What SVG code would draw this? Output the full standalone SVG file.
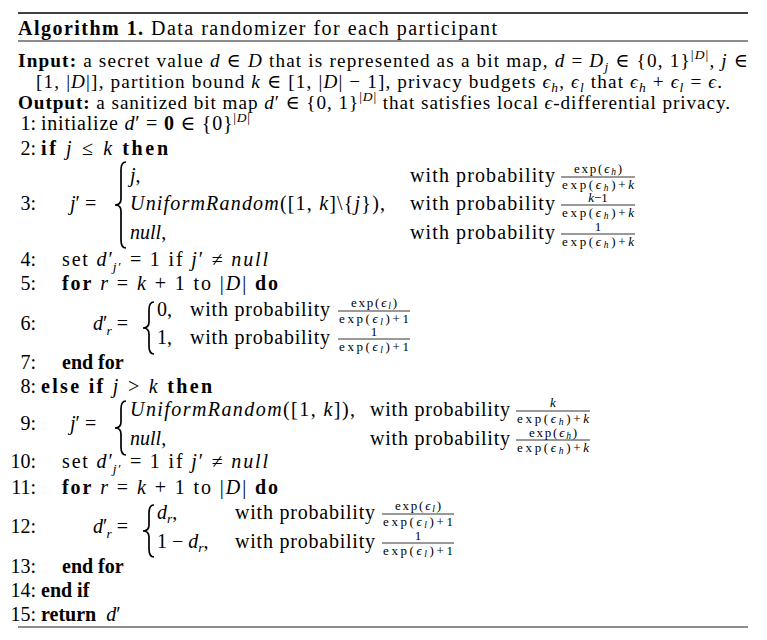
<svg xmlns="http://www.w3.org/2000/svg" width="767" height="640" viewBox="0 0 767 640">
<style>
text{font-family:"Liberation Serif","DejaVu Serif",serif;font-size:20px;fill:#000}
.L{font-size:19.2px}
.b{font-weight:bold}
.i{font-style:italic}
.s{font-size:13.5px}
.f{font-size:13px;text-anchor:middle}
.n{text-anchor:end}
.rule{stroke:#000;fill:none}
.br{stroke:#000;stroke-width:1.7;fill:none}
.bar{stroke:#000;stroke-width:0.8}
</style>
<rect width="767" height="640" fill="#fff"/>
<line class="rule" x1="18" y1="13" x2="748" y2="13" stroke-width="1.6"/>
<line class="rule" x1="18" y1="41" x2="748" y2="41" stroke-width="0.9"/>
<line class="rule" x1="18" y1="627" x2="748" y2="627" stroke-width="0.9"/>
<g id="title"><text x="18" y="35" textLength="479"><tspan class="b">Algorithm 1.</tspan> Data randomizer for each participant</text></g>
<g id="input">
<text class="L" x="18" y="67" textLength="730"><tspan class="b">Input:</tspan> a secret value <tspan class="i">d</tspan> ∈ <tspan class="i">D</tspan> that is represented as a bit map, <tspan class="i">d</tspan> = <tspan class="i">D</tspan><tspan class="i s" dy="4">j</tspan><tspan dy="-4"> ∈ {0, 1}</tspan><tspan class="s" dy="-8">|<tspan class="i">D</tspan>|</tspan><tspan dy="8">, </tspan><tspan class="i">j</tspan> ∈</text>
<text class="L" x="36" y="88" textLength="686">[1, |<tspan class="i">D</tspan>|], partition bound <tspan class="i">k</tspan> ∈ [1, |<tspan class="i">D</tspan>| − 1], privacy budgets <tspan class="i">ϵ</tspan><tspan class="i s" dy="4">h</tspan><tspan dy="-4">, </tspan><tspan class="i">ϵ</tspan><tspan class="i s" dy="4">l</tspan><tspan dy="-4"> that </tspan><tspan class="i">ϵ</tspan><tspan class="i s" dy="4">h</tspan><tspan dy="-4"> + </tspan><tspan class="i">ϵ</tspan><tspan class="i s" dy="4">l</tspan><tspan dy="-4"> = </tspan><tspan class="i">ϵ</tspan>.</text>
</g>
<g id="output">
<text class="L" x="18" y="109" textLength="712"><tspan class="b">Output:</tspan> a sanitized bit map <tspan class="i">d</tspan>′ ∈ {0, 1}<tspan class="s" dy="-8">|<tspan class="i">D</tspan>|</tspan><tspan dy="8"> that satisfies local </tspan><tspan class="i">ϵ</tspan>-differential privacy.</text>
</g>
<g id="line1">
<text class="n" x="36" y="130">1:</text>
<text x="41" y="130" textLength="209">initialize <tspan class="i">d</tspan>′ = <tspan class="b">0</tspan> ∈ {0}<tspan class="s" dy="-8">|<tspan class="i">D</tspan>|</tspan></text>
</g>
<g id="line2">
<text class="n" x="36" y="155">2:</text>
<text x="41" y="155" textLength="127"><tspan class="b">if</tspan> <tspan class="i">j</tspan> ≤ <tspan class="i">k</tspan> <tspan class="b">then</tspan></text>
</g>
<g id="line3">
<text class="n" x="36" y="210">3:</text>
<text x="70" y="210"><tspan class="i">j</tspan>′ =</text>
<path class="br" d="M126,162 C122,162 121,165 121,170 L121,199 C121,203 119,205 115,205 C119,205 121,207 121,211 L121,240 C121,245 122,248 126,248"/>
<text class="i" x="130" y="182">j<tspan font-style="normal">,</tspan></text>
<text x="130" y="210" textLength="255"><tspan class="i">UniformRandom</tspan>([1, <tspan class="i">k</tspan>]\{<tspan class="i">j</tspan>}),</text>
<text x="130" y="239"><tspan class="i">null</tspan>,</text>
<text x="410" y="182" textLength="145">with probability</text>
<text x="410" y="210" textLength="145">with probability</text>
<text x="410" y="239" textLength="145">with probability</text>
<text class="f" x="598" y="173" textLength="48">exp(<tspan class="i">ϵ</tspan><tspan class="i" font-size="9.5" dy="2">h</tspan><tspan dy="-2">)</tspan></text>
<line class="bar" x1="561" y1="177" x2="635" y2="177"/>
<text class="f" x="598" y="189" textLength="72">exp(<tspan class="i">ϵ</tspan><tspan class="i" font-size="9.5" dy="2">h</tspan><tspan dy="-2">)+</tspan><tspan class="i">k</tspan></text>
<text class="f i" x="598" y="202">k<tspan font-style="normal">−1</tspan></text>
<line class="bar" x1="561" y1="205" x2="635" y2="205"/>
<text class="f" x="598" y="217" textLength="72">exp(<tspan class="i">ϵ</tspan><tspan class="i" font-size="9.5" dy="2">h</tspan><tspan dy="-2">)+</tspan><tspan class="i">k</tspan></text>
<text class="f" x="598" y="231">1</text>
<line class="bar" x1="561" y1="234" x2="635" y2="234"/>
<text class="f" x="598" y="246" textLength="72">exp(<tspan class="i">ϵ</tspan><tspan class="i" font-size="9.5" dy="2">h</tspan><tspan dy="-2">)+</tspan><tspan class="i">k</tspan></text>
</g>
<g id="line4">
<text class="n" x="36" y="266">4:</text>
<text x="62" y="266" textLength="206">set <tspan class="i">d</tspan>′<tspan class="i s" dx="-2" dy="5">j</tspan><tspan class="s">′</tspan><tspan dy="-5"> = 1 if </tspan><tspan class="i">j</tspan>′ ≠ <tspan class="i">null</tspan></text>
</g>
<g id="line5">
<text class="n" x="36" y="290">5:</text>
<text x="62" y="290" textLength="216"><tspan class="b">for</tspan> <tspan class="i">r</tspan> = <tspan class="i">k</tspan> + 1 to |<tspan class="i">D</tspan>| <tspan class="b">do</tspan></text>
</g>
<g id="line6">
<text class="n" x="36" y="330">6:</text>
<text x="93" y="330"><tspan class="i">d</tspan>′<tspan class="i s" dx="-1" dy="5">r</tspan><tspan dy="-5"> =</tspan></text>
<path class="br" d="M154,302 C150,302 149,305 149,310 L149,322 C149,326 147,328 143,328 C147,328 149,330 149,334 L149,346 C149,351 150,354 154,354"/>
<text x="157" y="316">0,</text>
<text x="157" y="344">1,</text>
<text x="190" y="316" textLength="140">with probability</text>
<text x="190" y="344" textLength="140">with probability</text>
<text class="f" x="374" y="307" textLength="46">exp(<tspan class="i">ϵ</tspan><tspan class="i" font-size="9.5" dy="2">l</tspan><tspan dy="-2">)</tspan></text>
<line class="bar" x1="338" y1="311" x2="410" y2="311"/>
<text class="f" x="374" y="323" textLength="70">exp(<tspan class="i">ϵ</tspan><tspan class="i" font-size="9.5" dy="2">l</tspan><tspan dy="-2">)+1</tspan></text>
<text class="f" x="374" y="336">1</text>
<line class="bar" x1="338" y1="339" x2="410" y2="339"/>
<text class="f" x="374" y="351" textLength="70">exp(<tspan class="i">ϵ</tspan><tspan class="i" font-size="9.5" dy="2">l</tspan><tspan dy="-2">)+1</tspan></text>
</g>
<g id="line7">
<text class="n" x="36" y="369">7:</text>
<text class="b" x="62" y="369">end for</text>
</g>
<g id="line8">
<text class="n" x="36" y="393">8:</text>
<text x="41" y="393" textLength="171"><tspan class="b">else if</tspan> <tspan class="i">j</tspan> &gt; <tspan class="i">k</tspan> <tspan class="b">then</tspan></text>
</g>
<g id="line9">
<text class="n" x="36" y="430">9:</text>
<text x="70" y="430"><tspan class="i">j</tspan>′ =</text>
<path class="br" d="M126,401 C122,401 121,404 121,409 L121,422 C121,426 119,428 115,428 C119,428 121,430 121,434 L121,447 C121,452 122,455 126,455"/>
<text x="130" y="416" textLength="225"><tspan class="i">UniformRandom</tspan>([1, <tspan class="i">k</tspan>]),</text>
<text x="130" y="445"><tspan class="i">null</tspan>,</text>
<text x="370" y="416" textLength="140">with probability</text>
<text x="370" y="445" textLength="140">with probability</text>
<text class="f i" x="553" y="407">k</text>
<line class="bar" x1="516" y1="411" x2="590" y2="411"/>
<text class="f" x="553" y="423" textLength="72">exp(<tspan class="i">ϵ</tspan><tspan class="i" font-size="9.5" dy="2">h</tspan><tspan dy="-2">)+</tspan><tspan class="i">k</tspan></text>
<text class="f" x="553" y="437" textLength="48">exp(<tspan class="i">ϵ</tspan><tspan class="i" font-size="9.5" dy="2">h</tspan><tspan dy="-2">)</tspan></text>
<line class="bar" x1="516" y1="440" x2="590" y2="440"/>
<text class="f" x="553" y="452" textLength="72">exp(<tspan class="i">ϵ</tspan><tspan class="i" font-size="9.5" dy="2">h</tspan><tspan dy="-2">)+</tspan><tspan class="i">k</tspan></text>
</g>
<g id="line10">
<text class="n" x="36" y="468">10:</text>
<text x="62" y="468" textLength="206">set <tspan class="i">d</tspan>′<tspan class="i s" dx="-2" dy="5">j</tspan><tspan class="s">′</tspan><tspan dy="-5"> = 1 if </tspan><tspan class="i">j</tspan>′ ≠ <tspan class="i">null</tspan></text>
</g>
<g id="line11">
<text class="n" x="36" y="494">11:</text>
<text x="62" y="494" textLength="216"><tspan class="b">for</tspan> <tspan class="i">r</tspan> = <tspan class="i">k</tspan> + 1 to |<tspan class="i">D</tspan>| <tspan class="b">do</tspan></text>
</g>
<g id="line12">
<text class="n" x="36" y="533">12:</text>
<text x="93" y="533"><tspan class="i">d</tspan>′<tspan class="i s" dx="-1" dy="5">r</tspan><tspan dy="-5"> =</tspan></text>
<path class="br" d="M154,505 C150,505 149,508 149,513 L149,525 C149,529 147,531 143,531 C147,531 149,533 149,537 L149,549 C149,554 150,557 154,557"/>
<text x="157" y="519"><tspan class="i">d</tspan><tspan class="i s" dy="4">r</tspan><tspan dy="-4">,</tspan></text>
<text x="157" y="548">1 − <tspan class="i">d</tspan><tspan class="i s" dy="4">r</tspan><tspan dy="-4">,</tspan></text>
<text x="235" y="519" textLength="140">with probability</text>
<text x="235" y="548" textLength="140">with probability</text>
<text class="f" x="418" y="510" textLength="46">exp(<tspan class="i">ϵ</tspan><tspan class="i" font-size="9.5" dy="2">l</tspan><tspan dy="-2">)</tspan></text>
<line class="bar" x1="382" y1="514" x2="454" y2="514"/>
<text class="f" x="418" y="526" textLength="70">exp(<tspan class="i">ϵ</tspan><tspan class="i" font-size="9.5" dy="2">l</tspan><tspan dy="-2">)+1</tspan></text>
<text class="f" x="418" y="540">1</text>
<line class="bar" x1="382" y1="543" x2="454" y2="543"/>
<text class="f" x="418" y="555" textLength="70">exp(<tspan class="i">ϵ</tspan><tspan class="i" font-size="9.5" dy="2">l</tspan><tspan dy="-2">)+1</tspan></text>
</g>
<g id="line13">
<text class="n" x="36" y="573">13:</text>
<text class="b" x="62" y="573">end for</text>
</g>
<g id="line14">
<text class="n" x="36" y="597">14:</text>
<text class="b" x="41" y="597">end if</text>
</g>
<g id="line15">
<text class="n" x="36" y="621">15:</text>
<text x="41" y="621"><tspan class="b">return</tspan> <tspan class="i" dx="5">d</tspan>′</text>
</g>
</svg>
